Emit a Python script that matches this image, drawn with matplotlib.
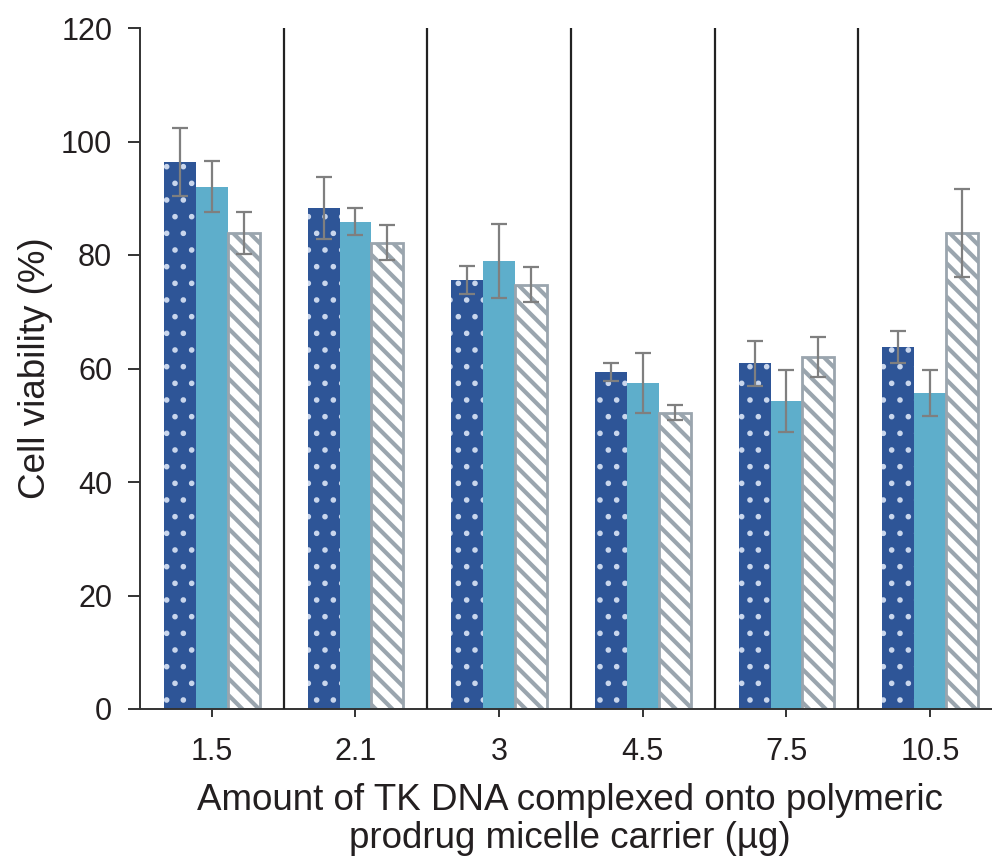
import numpy as np
import matplotlib.pyplot as plt

# amounts of TK DNA (x categories)
amounts = ["1.5", "2.1", "3", "4.5", "7.5", "10.5"]

# cell viability (%) for the three series
dotted = [96.4, 88.3, 75.6, 59.4, 60.9, 63.8]
dotted_err = [6.0, 5.5, 2.5, 1.6, 3.9, 2.8]
plain = [92.0, 85.9, 78.9, 57.4, 54.3, 55.7]
plain_err = [4.5, 2.4, 6.5, 5.3, 5.5, 4.0]
striped = [83.8, 82.2, 74.8, 52.2, 62.0, 83.9]
striped_err = [3.7, 3.0, 3.0, 1.3, 3.5, 7.8]

plt.rcParams['font.family'] = ['Liberation Sans', 'DejaVu Sans']

fig = plt.figure(figsize=(9.92, 8.56), dpi=100)
ax = fig.add_axes([140 / 992, 1 - 709 / 856, 862 / 992, 681 / 856])

x = np.arange(len(amounts))
w = 0.222
err_kw = dict(ecolor='#7f7f7f', elinewidth=1.6, capsize=6, capthick=1.6)


def bars(xpos, vals, errs, hatch_lw, **kw):
    with plt.rc_context({'hatch.linewidth': hatch_lw}):
        bc = ax.bar(xpos, vals, w, yerr=errs, error_kw=err_kw, zorder=2, **kw)
    for p in bc:
        if hasattr(p, 'set_hatch_linewidth'):
            p.set_hatch_linewidth(hatch_lw)
    return bc


bars(x - w, dotted, dotted_err, 1.6, color='#2e5597', edgecolor='#c9d6ec',
     linewidth=0, hatch='.')
bars(x, plain, plain_err, 1.0, color='#5eaecb', linewidth=0)
bars(x + w, striped, striped_err, 3.0, facecolor='white',
     edgecolor='#9aa5ae', linewidth=2.0, hatch='\\\\')

# separators between groups
for s in x[:-1] + 0.5:
    ax.plot([s, s], [0, 120], color='#222222', lw=1.6, zorder=3)

ax.set_xlim(-0.5, len(amounts) - 0.5)
ax.set_ylim(0, 120)
ax.set_yticks(np.arange(0, 121, 20))
ax.set_xticks(x)
ax.set_xticklabels(amounts)

for sp in ['top', 'right']:
    ax.spines[sp].set_visible(False)
for sp in ['left', 'bottom']:
    ax.spines[sp].set_color('#333333')
    ax.spines[sp].set_linewidth(1.4)

ax.tick_params(axis='y', direction='out', length=9, width=1.4, color='#333333',
               labelsize=22, pad=11, labelcolor='#231f20')
ax.tick_params(axis='x', direction='out', length=6, width=1.4, color='#333333',
               labelsize=22, pad=14, labelcolor='#231f20')

ax.set_ylabel('Cell viability (%)', fontsize=26.5, color='#231f20', va='center')
ax.yaxis.set_label_coords(-105 / 862, 0.5)
ax.set_xlabel('Amount of TK DNA complexed onto polymeric\nprodrug micelle carrier (\u00b5g)',
              fontsize=26.5, color='#231f20', linespacing=1.12, va='top')
ax.xaxis.set_label_coords(430 / 862, -74 / 681)

fig.savefig('out.png', dpi=100)
